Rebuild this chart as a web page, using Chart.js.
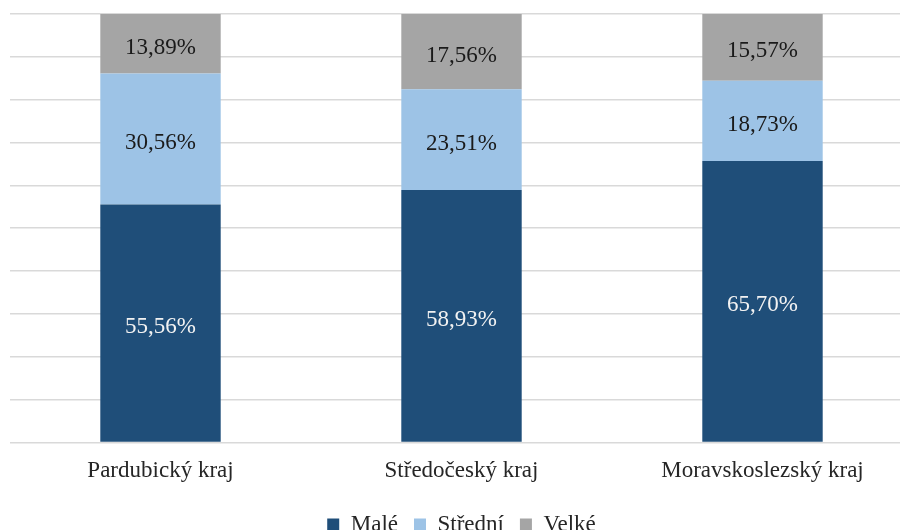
<!DOCTYPE html>
<html>
<head>
<meta charset="utf-8">
<script src="https://cdn.jsdelivr.net/npm/chart.js@4/dist/chart.umd.min.js"></script>
<style>
  html, body { margin:0; padding:0; background:#fff; }
  #wrap { width:900px; height:530px; overflow:hidden; position:relative; }
  #box { width:914px; height:546px; position:absolute; left:0; top:0; }
</style>
</head>
<body>
<div id="wrap"><div id="box"><canvas id="c"></canvas></div></div>
<script>
// Data (share of firms by size, %)
const categories = ['Pardubický kraj', 'Středočeský kraj', 'Moravskoslezský kraj'];
const seriesNames = ['Malé', 'Střední', 'Velké'];
const male = [55.56, 58.93, 65.70];
const stredni = [30.56, 23.51, 18.73];
const velke = [13.89, 17.56, 15.57];
const yTicks = [0, 10, 20, 30, 40, 50, 60, 70, 80, 90, 100];

const COLORS = ['#1f4e79', '#9dc3e6', '#a5a5a5'];
const LABEL_COLORS = ['#f2f2f2', '#1a1a1a', '#1a1a1a'];
const SERIF = '"Liberation Serif","Times New Roman",serif';

// Simple inline data labels (value in the middle of each segment)
const barLabels = {
  id: 'barLabels',
  afterDatasetsDraw(chart) {
    const ctx = chart.ctx;
    ctx.save();
    ctx.font = '23px ' + SERIF;
    ctx.textAlign = 'center';
    ctx.textBaseline = 'middle';
    chart.data.datasets.forEach((ds, di) => {
      chart.getDatasetMeta(di).data.forEach((bar, i) => {
        const p = bar.getProps(['x', 'y', 'base'], true);
        ctx.fillStyle = LABEL_COLORS[di];
        ctx.fillText(ds.data[i].toFixed(2).replace('.', ',') + '%', p.x, (p.y + p.base) / 2 + 4);
      });
    });
    ctx.restore();
  }
};

new Chart(document.getElementById('c'), {
  type: 'bar',
  data: {
    labels: categories,
    datasets: [male, stredni, velke].map((d, i) => ({
      label: seriesNames[i],
      data: d,
      backgroundColor: COLORS[i],
      borderWidth: 0,
      categoryPercentage: 1,
      barPercentage: 0.4,
    })),
  },
  options: {
    responsive: true, maintainAspectRatio: false,
    animation: false,
    layout: { padding: { left: 10, right: 1, top: 14, bottom: 0 } },
    plugins: {
      tooltip: { enabled: false },
      legend: {
        position: 'bottom',
        labels: {
          font: { size: 23, family: SERIF }, color: '#262626',
          boxWidth: 12, boxHeight: 12, padding: 16,
        },
      },
    },
    scales: {
      x: {
        stacked: true,
        grid: { display: false },
        border: { display: false },
        ticks: { font: { size: 23, family: SERIF }, color: '#262626', padding: 7 },
        afterFit: s => { s.height += 5; },
      },
      y: {
        stacked: true,
        min: 0, max: 100,
        afterBuildTicks: axis => { axis.ticks = yTicks.map(v => ({ value: v })); },
        ticks: { display: false },
        grid: { color: '#d9d9d9', lineWidth: 1.5, drawTicks: false },
        border: { display: false },
      },
    },
  },
  plugins: [barLabels],
});
</script>
</body>
</html>
